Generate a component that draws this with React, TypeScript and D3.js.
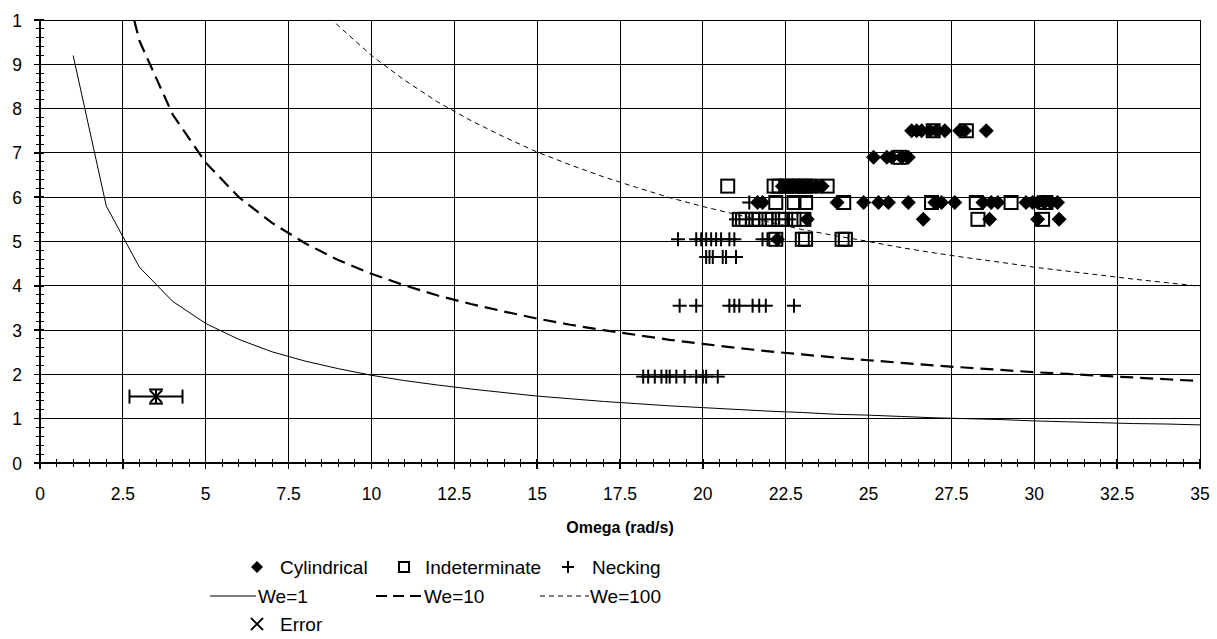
import React from 'react';
import * as d3 from 'd3';

const W = 1217;
const H = 639;

// Axis ticks
const xTickValues = [0, 2.5, 5, 7.5, 10, 12.5, 15, 17.5, 20, 22.5, 25, 27.5, 30, 32.5, 35];
const xTickLabels = ['0', '2.5', '5', '7.5', '10', '12.5', '15', '17.5', '20', '22.5', '25', '27.5', '30', '32.5', '35'];
const yTickValues = [0, 1, 2, 3, 4, 5, 6, 7, 8, 9, 10];
const yTickLabels = ['0', '1', '2', '3', '4', '5', '6', '7', '8', '9', '1'];

// Weber number curves (at integer Omega)
const curveX = [1, 2, 3, 4, 5, 6, 7, 8, 9, 10, 11, 12, 13, 14, 15, 16, 17, 18, 19, 20, 21, 22, 23, 24, 25, 26, 27, 28, 29, 30, 31, 32, 33, 34, 35];
const we1 = [9.2, 5.8, 4.42, 3.65, 3.15, 2.79, 2.51, 2.3, 2.13, 1.98, 1.86, 1.76, 1.67, 1.59, 1.51, 1.45, 1.39, 1.34, 1.29, 1.25, 1.21, 1.17, 1.14, 1.1, 1.08, 1.05, 1.02, 1.0, 0.98, 0.95, 0.93, 0.91, 0.89, 0.88, 0.86];
const we10 = [19.8, 12.49, 9.53, 7.87, 6.78, 6.0, 5.42, 4.96, 4.58, 4.27, 4.01, 3.78, 3.59, 3.42, 3.26, 3.12, 3.0, 2.89, 2.78, 2.69, 2.6, 2.52, 2.45, 2.38, 2.32, 2.26, 2.2, 2.15, 2.1, 2.05, 2.01, 1.97, 1.93, 1.89, 1.85];
const we100 = [42.7, 26.9, 20.5, 16.95, 14.6, 12.93, 11.67, 10.68, 9.87, 9.2, 8.64, 8.15, 7.73, 7.36, 7.02, 6.73, 6.46, 6.22, 5.99, 5.79, 5.61, 5.44, 5.27, 5.13, 5.0, 4.86, 4.74, 4.63, 4.53, 4.42, 4.33, 4.24, 4.15, 4.07, 3.99];

// Cylindrical observations [omega, y]
const cylindrical: [number, number][] = [
  [26.3, 7.5], [26.45, 7.5], [26.6, 7.5], [26.85, 7.5], [27.05, 7.5], [27.3, 7.5], [27.75, 7.5], [27.9, 7.5], [28.55, 7.5],
  [25.15, 6.9], [25.55, 6.9], [25.7, 6.9], [26.0, 6.9], [26.2, 6.9],
  [22.4, 6.25], [22.6, 6.25], [22.8, 6.25], [23.0, 6.25], [23.2, 6.25], [23.4, 6.25], [23.6, 6.25],
  [21.65, 5.88], [21.8, 5.88], [24.05, 5.88], [24.85, 5.88], [25.3, 5.88], [25.6, 5.88], [26.2, 5.88], [27.0, 5.88], [27.2, 5.88], [27.6, 5.88],
  [28.45, 5.88], [28.7, 5.88], [28.9, 5.88], [29.75, 5.88], [29.95, 5.88], [30.1, 5.88], [30.3, 5.88], [30.5, 5.88], [30.7, 5.88],
  [23.15, 5.5], [26.65, 5.5], [28.65, 5.5], [30.1, 5.5], [30.75, 5.5],
  [22.25, 5.05],
];

// Indeterminate observations
const indeterminate: [number, number][] = [
  [26.95, 7.5], [27.95, 7.5],
  [25.95, 6.9],
  [20.75, 6.25], [22.15, 6.25], [22.3, 6.25], [22.5, 6.25], [22.7, 6.25], [22.9, 6.25], [23.1, 6.25], [23.3, 6.25], [23.75, 6.25],
  [22.2, 5.88], [22.75, 5.88], [23.1, 5.88], [24.25, 5.88], [26.9, 5.88], [28.25, 5.88], [29.3, 5.88], [30.35, 5.88],
  [21.1, 5.5], [21.3, 5.5], [21.5, 5.5], [21.7, 5.5], [21.9, 5.5], [22.1, 5.5], [22.3, 5.5], [22.5, 5.5], [22.75, 5.5], [23.05, 5.5], [28.3, 5.5], [30.25, 5.5],
  [22.2, 5.05], [23.0, 5.05], [23.1, 5.05], [24.2, 5.05], [24.3, 5.05],
];

// Necking observations
const necking: [number, number][] = [
  [21.4, 5.88],
  [21.0, 5.5], [21.4, 5.5], [21.8, 5.5], [22.2, 5.5], [22.6, 5.5],
  [19.25, 5.05], [19.8, 5.05], [19.95, 5.05], [20.1, 5.05], [20.25, 5.05], [20.4, 5.05], [20.55, 5.05], [20.8, 5.05], [20.95, 5.05], [21.8, 5.05], [21.95, 5.05],
  [20.1, 4.65], [20.2, 4.65], [20.3, 4.65], [20.6, 4.65], [20.7, 4.65], [21.0, 4.65],
  [19.3, 3.55], [19.8, 3.55], [20.8, 3.55], [20.95, 3.55], [21.1, 3.55], [21.5, 3.55], [21.7, 3.55], [21.9, 3.55], [22.75, 3.55],
  [18.2, 1.95], [18.35, 1.95], [18.55, 1.95], [18.75, 1.95], [18.9, 1.95], [19.0, 1.95], [19.2, 1.95], [19.45, 1.95], [19.8, 1.95], [20.0, 1.95], [20.1, 1.95], [20.45, 1.95],
];

// Error estimate
const errorX = [3.5];
const errorY = [1.5];
const errorXSpan = [0.8];
const errorYSpan = [0.16];

const FONT = 'Liberation Sans, Arial, sans-serif';

export default function App() {
  const left = 40, right = 1200, top = 20, bottom = 463;
  const x = d3.scaleLinear().domain([0, 35]).range([left, right]);
  const y = d3.scaleLinear().domain([0, 10]).range([bottom, top]);

  const xMinor = d3.range(0, 35.001, 0.5);
  const yMinor = d3.range(0, 10.001, 0.2);

  const line = d3.line<[number, number]>().x(d => x(d[0])).y(d => y(d[1]));
  const pts = (vals: number[]) => curveX.map((cx, i) => [cx, vals[i]] as [number, number]);

  const diamond = 'M0,-7.5L7.5,0L0,7.5L-7.5,0Z';

  return (
    <svg width={W} height={H} style={{ position: 'absolute', left: 0, top: 0, background: '#fff' }} fontFamily={FONT}>
      <rect x={0} y={0} width={W} height={H} fill="#fff" />
      <defs>
        <clipPath id="plotClip">
          <rect x={left} y={top} width={right - left} height={bottom - top} />
        </clipPath>
      </defs>
      {/* grid */}
      {xTickValues.map(v => (
        <line key={'gx' + v} x1={x(v)} x2={x(v)} y1={top} y2={bottom} stroke="#000" strokeWidth={1} shapeRendering="crispEdges" />
      ))}
      {yTickValues.map(v => (
        <line key={'gy' + v} x1={left} x2={right} y1={y(v)} y2={y(v)} stroke="#000" strokeWidth={1} shapeRendering="crispEdges" />
      ))}
      {/* axes */}
      <line x1={left} x2={left} y1={top} y2={bottom} stroke="#000" strokeWidth={1.5} shapeRendering="crispEdges" />
      <line x1={left} x2={right} y1={bottom} y2={bottom} stroke="#000" strokeWidth={1.5} shapeRendering="crispEdges" />
      {xMinor.map(v => (
        <line key={'mx' + v} x1={x(v)} x2={x(v)} y1={bottom - 4} y2={bottom + 4} stroke="#000" strokeWidth={1} shapeRendering="crispEdges" />
      ))}
      {xTickValues.map(v => (
        <line key={'tx' + v} x1={x(v)} x2={x(v)} y1={bottom - 4} y2={bottom + 6} stroke="#000" strokeWidth={1.5} shapeRendering="crispEdges" />
      ))}
      {yMinor.map(v => (
        <line key={'my' + v} x1={left - 4} x2={left + 4} y1={y(v)} y2={y(v)} stroke="#000" strokeWidth={1} shapeRendering="crispEdges" />
      ))}
      {yTickValues.map(v => (
        <line key={'ty' + v} x1={left - 6} x2={left + 4} y1={y(v)} y2={y(v)} stroke="#000" strokeWidth={1.5} shapeRendering="crispEdges" />
      ))}
      {/* tick labels */}
      {xTickValues.map((v, i) => (
        <text key={'lx' + v} x={x(v)} y={500} textAnchor="middle" fontSize={17.5} fill="#000">{xTickLabels[i]}</text>
      ))}
      {yTickValues.map((v, i) => (
        <text key={'ly' + v} x={22} y={y(v) + 6.5} textAnchor="end" fontSize={17.5} fill="#000">{yTickLabels[i]}</text>
      ))}
      <text x={(left + right) / 2} y={533} textAnchor="middle" fontSize={16} fontWeight="bold" fill="#000">Omega (rad/s)</text>

      {/* curves */}
      <g clipPath="url(#plotClip)" fill="none" stroke="#000">
        <path d={line(pts(we1)) || ''} strokeWidth={1} />
        <path d={line(pts(we10)) || ''} strokeWidth={2.2} strokeDasharray="13,7" />
        <path d={line(pts(we100)) || ''} strokeWidth={1} strokeDasharray="5,4" />
      </g>

      {/* scatter */}
      <g>
        {cylindrical.map((d, i) => (
          <path key={'c' + i} d={diamond} transform={`translate(${x(d[0])},${y(d[1])})`} fill="#000" />
        ))}
        {indeterminate.map((d, i) => (
          <rect key={'s' + i} x={x(d[0]) - 6.5} y={y(d[1]) - 6.5} width={13} height={13} fill="none" stroke="#000" strokeWidth={2} />
        ))}
        {necking.map((d, i) => (
          <g key={'n' + i} transform={`translate(${x(d[0])},${y(d[1])})`} stroke="#000" strokeWidth={2}>
            <line x1={-7} x2={7} y1={0} y2={0} />
            <line x1={0} x2={0} y1={-7} y2={7} />
          </g>
        ))}
        {errorX.map((ex, i) => {
          const cx = x(ex), cy = y(errorY[i]);
          const x0 = x(ex - errorXSpan[i]), x1 = x(ex + errorXSpan[i]);
          const y0 = y(errorY[i] + errorYSpan[i]), y1 = y(errorY[i] - errorYSpan[i]);
          return (
            <g key={'e' + i} stroke="#000" strokeWidth={2} fill="none">
              <line x1={x0} x2={x1} y1={cy} y2={cy} />
              <line x1={x0} x2={x0} y1={cy - 7} y2={cy + 7} />
              <line x1={x1} x2={x1} y1={cy - 7} y2={cy + 7} />
              <line x1={cx} x2={cx} y1={y0} y2={y1} />
              <line x1={cx - 7} x2={cx + 7} y1={y0} y2={y0} />
              <line x1={cx - 7} x2={cx + 7} y1={y1} y2={y1} />
              <line x1={cx - 6} x2={cx + 6} y1={cy - 6} y2={cy + 6} />
              <line x1={cx - 6} x2={cx + 6} y1={cy + 6} y2={cy - 6} />
            </g>
          );
        })}
      </g>

      {/* legend */}
      <g fontSize={19} fill="#000">
        <path d="M0,-6L6,0L0,6L-6,0Z" transform="translate(257,567)" fill="#000" />
        <text x={280} y={574}>Cylindrical</text>
        <rect x={399} y={562} width={10} height={10} fill="none" stroke="#000" strokeWidth={2} />
        <text x={425} y={574}>Indeterminate</text>
        <g stroke="#000" strokeWidth={2}>
          <line x1={562} x2={574} y1={567} y2={567} />
          <line x1={568} x2={568} y1={561} y2={573} />
        </g>
        <text x={592} y={574}>Necking</text>

        <line x1={210} x2={256} y1={596} y2={596} stroke="#000" strokeWidth={1} />
        <text x={258} y={603}>We=1</text>
        <line x1={376} x2={421} y1={596} y2={596} stroke="#000" strokeWidth={2.2} strokeDasharray="11,6" />
        <text x={424} y={603}>We=10</text>
        <line x1={540} x2={589} y1={596} y2={596} stroke="#000" strokeWidth={1} strokeDasharray="5,4" />
        <text x={590} y={603}>We=100</text>

        <g stroke="#000" strokeWidth={1.8}>
          <line x1={251} x2={263} y1={618} y2={630} />
          <line x1={251} x2={263} y1={630} y2={618} />
        </g>
        <text x={280} y={631}>Error</text>
      </g>
    </svg>
  );
}
